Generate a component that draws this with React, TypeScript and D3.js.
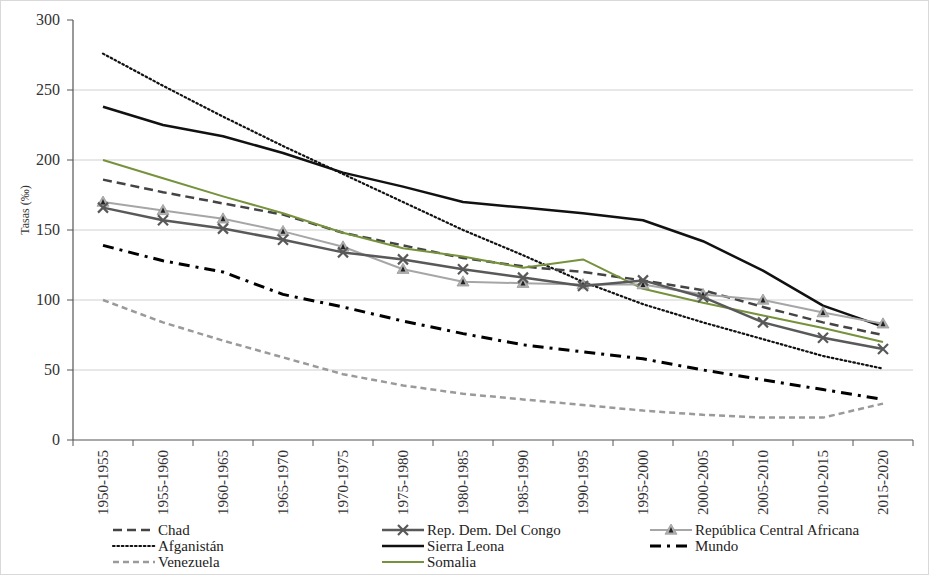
import React from "react";
import * as d3 from "d3";

const categories = ["1950-1955","1955-1960","1960-1965","1965-1970","1970-1975","1975-1980","1980-1985","1985-1990","1990-1995","1995-2000","2000-2005","2005-2010","2010-2015","2015-2020"];
const chad = [186,177,169,161,148,139,130,124,120,114,107,95,84,75];
const congo = [166,157,151,143,134,129,122,116,110,114,102,84,73,65];
const rca = [170,164,158,149,138,122,113,112,111,111,104,100,91,83];
const afganistan = [276,253,231,210,190,170,150,132,113,97,84,72,60,51];
const sierraLeona = [238,225,217,205,191,181,170,166,162,157,142,121,96,81];
const mundo = [139,128,120,104,95,85,76,68,63,58,50,43,36,29];
const venezuela = [100,84,71,59,47,39,33,29,25,21,18,16,16,26];
const somalia = [200,187,174,162,148,137,131,123,129,108,98,89,80,70];
const yTicks = [0,50,100,150,200,250,300];

type S = { name: string; values: number[]; color: string; width: number; dash?: string; marker?: "x" | "tri"; cap?: string };
const series: S[] = [
  { name: "Venezuela", values: venezuela, color: "#9a9a9a", width: 2.5, dash: "6,4" },
  { name: "Mundo", values: mundo, color: "#000", width: 3, dash: "11,6,3,6" },
  { name: "Afganistán", values: afganistan, color: "#111", width: 2.2, dash: "1.6,2.8", cap: "round" },
  { name: "Sierra Leona", values: sierraLeona, color: "#111", width: 2.5 },
  { name: "Chad", values: chad, color: "#444", width: 2.5, dash: "9,5" },
  { name: "Somalia", values: somalia, color: "#76923c", width: 2 },
  { name: "República Central Africana", values: rca, color: "#a6a6a6", width: 2, marker: "tri" },
  { name: "Rep. Dem. Del Congo", values: congo, color: "#595959", width: 2.5, marker: "x" },
];

const legendOrder = [
  ["Chad", 113, 530], ["Rep. Dem. Del Congo", 382, 530], ["República Central Africana", 650, 530],
  ["Afganistán", 113, 546], ["Sierra Leona", 382, 546], ["Mundo", 650, 546],
  ["Venezuela", 113, 562], ["Somalia", 382, 562],
] as const;

function Marker({ type, x, y, color }: { type: "x" | "tri"; x: number; y: number; color: string }) {
  if (type === "x") {
    const r = 5;
    return <path d={`M${x - r},${y - r}L${x + r},${y + r}M${x - r},${y + r}L${x + r},${y - r}`} stroke={color} strokeWidth={2.2} fill="none" />;
  }
  const r = 6;
  const r2 = 3;
  return (
    <g>
      <path d={`M${x},${y - r}L${x + r},${y + r * 0.7}L${x - r},${y + r * 0.7}Z`} fill="#b0b0b0" stroke="#999" strokeWidth={0.8} />
      <path d={`M${x},${y - r2}L${x + r2 * 0.8},${y + r2 * 0.8}L${x - r2 * 0.8},${y + r2 * 0.8}Z`} fill="#222" />
    </g>
  );
}

const FONT = "Liberation Serif";

export default function App() {
  const W = 929, H = 575;
  const left = 73, right = 913, top = 20, bottom = 440;
  const x = d3.scalePoint<string>().domain(categories).range([left, right]).padding(0.5);
  const band = (right - left) / categories.length;
  const y = d3.scaleLinear().domain([0, 300]).range([bottom, top]);
  const line = d3.line<number>().x((_, i) => x(categories[i])!).y((v) => y(v));
  const byName = Object.fromEntries(series.map((s) => [s.name, s]));

  return (
    <svg width={W} height={H} style={{ position: "absolute", left: 0, top: 0, background: "#fff" }} fontFamily={FONT}>
      <rect x={0.5} y={0.5} width={W - 1} height={H - 1} fill="#fff" stroke="#d9d9d9" />
      {yTicks.filter((t) => t > 0 && t < 300).map((t) => (
        <line key={t} x1={left} x2={right} y1={y(t)} y2={y(t)} stroke="#d0d0d0" strokeWidth={1} />
      ))}
      {yTicks.map((t) => (
        <g key={"yt" + t}>
          <line x1={left - 6} x2={left} y1={y(t)} y2={y(t)} stroke="#555" />
          <text x={left - 13} y={y(t) + 5} textAnchor="end" fontSize={16} fill="#333" fontFamily={FONT}>{t}</text>
        </g>
      ))}
      <line x1={left} x2={left} y1={top} y2={bottom} stroke="#555" strokeWidth={1.2} />
      <line x1={left} x2={right} y1={bottom} y2={bottom} stroke="#555" strokeWidth={1.2} />
      {d3.range(categories.length + 1).map((i) => (
        <line key={"xt" + i} x1={left + i * band} x2={left + i * band} y1={bottom} y2={bottom + 6} stroke="#555" />
      ))}
      {categories.map((c) => (
        <text key={c} transform={`translate(${x(c)! + 5},${bottom + 10}) rotate(-90)`} textAnchor="end" fontSize={15} fill="#333" fontFamily={FONT}>{c}</text>
      ))}
      <text transform={`translate(29,210) rotate(-90)`} textAnchor="middle" fontSize={12} fill="#333" fontFamily={FONT}>Tasas (‰)</text>
      {series.map((s) => (
        <g key={s.name}>
          <path d={line(s.values)!} fill="none" stroke={s.color} strokeWidth={s.width} strokeDasharray={s.dash} strokeLinecap={(s.cap as any) || "butt"} strokeLinejoin="round" />
          {s.marker && s.values.map((v, i) => <Marker key={i} type={s.marker!} x={x(categories[i])!} y={y(v)} color={s.color} />)}
        </g>
      ))}
      {legendOrder.map(([name, lx, ly]) => {
        const s = byName[name];
        return (
          <g key={name}>
            <line x1={lx} x2={lx + 42} y1={ly} y2={ly} stroke={s.color} strokeWidth={s.width} strokeDasharray={s.dash} strokeLinecap={(s.cap as any) || "butt"} />
            {s.marker && <Marker type={s.marker} x={lx + 21} y={ly} color={s.color} />}
            <text x={lx + 45} y={ly + 5} fontSize={15} fill="#222" fontFamily={FONT}>{name}</text>
          </g>
        );
      })}
    </svg>
  );
}
